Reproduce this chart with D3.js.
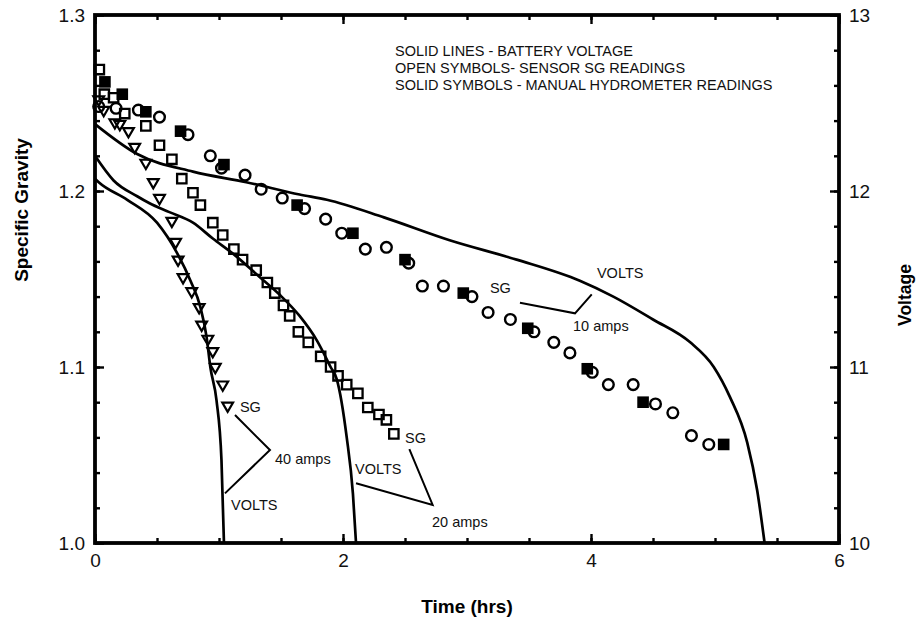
<!DOCTYPE html>
<html>
<head>
<meta charset="utf-8">
<script src="https://cdn.jsdelivr.net/npm/d3@7"></script>
<style>
  body { margin: 0; background: #fff; }
  svg { display: block; font-family: "Liberation Sans", Arial, Helvetica, sans-serif; }
</style>
</head>
<body>
<svg id="chart" width="921" height="624"></svg>
<script>
// battery voltage, [hours, volts]
const volts10A = [[0, 12.38], [0.34, 12.21], [0.79, 12.11], [1.22, 12.05], [1.65, 11.98], [1.87, 11.95],
  [2.33, 11.85], [2.86, 11.72], [3.4, 11.61], [3.91, 11.49], [4.18, 11.4], [4.5, 11.27], [4.8, 11.14],
  [4.99, 11.0], [5.12, 10.83], [5.26, 10.57], [5.34, 10.3], [5.4, 10.0]];
const volts20A = [[0, 12.2], [0.15, 12.06], [0.34, 11.97], [0.44, 11.93], [0.6, 11.88], [0.79, 11.82],
  [0.95, 11.73], [1.12, 11.64], [1.33, 11.51], [1.49, 11.41], [1.65, 11.29], [1.79, 11.15], [1.9, 11.0],
  [1.95, 10.93], [2.03, 10.6], [2.08, 10.28], [2.105, 10.0]];
const volts40A = [[0, 12.07], [0.03, 12.05], [0.26, 11.95], [0.5, 11.82], [0.66, 11.65], [0.77, 11.49],
  [0.85, 11.34], [0.9, 11.17], [0.93, 11.0], [0.98, 10.81], [1.02, 10.47], [1.04, 10.0]];

// sensor SG readings, [hours, SG]
const sensor10A = [[0.03, 1.248], [0.17, 1.247], [0.35, 1.246], [0.52, 1.242], [0.75, 1.232], [0.93, 1.22],
  [1.02, 1.213], [1.21, 1.209], [1.34, 1.201], [1.51, 1.196], [1.69, 1.19], [1.86, 1.184], [1.99, 1.176],
  [2.18, 1.167], [2.35, 1.168], [2.53, 1.159], [2.64, 1.146], [2.81, 1.146], [3.04, 1.14], [3.17, 1.131],
  [3.35, 1.127], [3.54, 1.12], [3.7, 1.114], [3.83, 1.108], [4.01, 1.097], [4.14, 1.09], [4.34, 1.09],
  [4.52, 1.079], [4.66, 1.074], [4.81, 1.061], [4.95, 1.056]];
const sensor20A = [[0.035, 1.269], [0.075, 1.255], [0.15, 1.253], [0.24, 1.244], [0.41, 1.237], [0.52, 1.226],
  [0.62, 1.218], [0.7, 1.207], [0.79, 1.199], [0.85, 1.192], [0.95, 1.182], [1.03, 1.175], [1.12, 1.167],
  [1.19, 1.161], [1.3, 1.155], [1.39, 1.148], [1.45, 1.142], [1.52, 1.135], [1.57, 1.129], [1.64, 1.12],
  [1.72, 1.114], [1.82, 1.106], [1.9, 1.1], [1.96, 1.095], [2.03, 1.09], [2.12, 1.085], [2.2, 1.077],
  [2.29, 1.073], [2.35, 1.07], [2.41, 1.062]];
const sensor40A = [[0.03, 1.252], [0.07, 1.246], [0.16, 1.239], [0.2, 1.238], [0.27, 1.234], [0.32, 1.225],
  [0.41, 1.216], [0.47, 1.205], [0.52, 1.196], [0.62, 1.183], [0.65, 1.171], [0.67, 1.161], [0.71, 1.151],
  [0.78, 1.143], [0.84, 1.134], [0.86, 1.124], [0.91, 1.116], [0.95, 1.109], [0.97, 1.1], [1.03, 1.09],
  [1.07, 1.078]];

// manual hydrometer readings at 10 amps, [hours, SG]
const manual10A = [[0.08, 1.262], [0.22, 1.255], [0.41, 1.245], [0.69, 1.234], [1.04, 1.215], [1.63, 1.192],
  [2.08, 1.176], [2.5, 1.161], [2.97, 1.142], [3.49, 1.122], [3.97, 1.099], [4.42, 1.08], [5.07, 1.056]];

const xLabels = [0, 2, 4, 6];
const sgLabels = [1.0, 1.1, 1.2, 1.3];
const voltLabels = [10, 11, 12, 13];

const legendLines = ['SOLID LINES - BATTERY VOLTAGE', 'OPEN SYMBOLS- SENSOR SG READINGS',
  'SOLID SYMBOLS - MANUAL HYDROMETER READINGS'];

// callouts: text at [hours, SG], leaders as polylines in the same units
const calloutText = [
  {text: 'SG', at: [3.185, 1.1449]}, {text: 'VOLTS', at: [4.048, 1.1534]}, {text: '10 amps', at: [3.855, 1.1233]},
  {text: 'SG', at: [2.5, 1.0597]}, {text: 'VOLTS', at: [2.097, 1.042]}, {text: '20 amps', at: [2.718, 1.0119]},
  {text: 'SG', at: [1.169, 1.0773]}, {text: '40 amps', at: [1.452, 1.0477]}, {text: 'VOLTS', at: [1.097, 1.0216]}
];
const calloutLeaders = [
  [[3.427, 1.1365], [3.871, 1.1305], [4.006, 1.1413]],
  [[2.535, 1.0534], [2.723, 1.0216], [2.105, 1.0339]],
  [[1.129, 1.0727], [1.411, 1.0528], [1.048, 1.0282]]
];

const plotLeft = 95, plotRight = 839, plotTop = 15, plotBottom = 543;

const svg = d3.select('#chart');
svg.append('rect').attr('width', 921).attr('height', 624).attr('fill', '#fff');

const x = d3.scaleLinear().domain([0, 6]).range([plotLeft, plotRight]);
const ySG = d3.scaleLinear().domain([1.0, 1.3]).range([plotBottom, plotTop]);
const yV = d3.scaleLinear().domain([10, 13]).range([plotBottom, plotTop]);

// minor ticks (inward)
svg.append('g').attr('transform', `translate(0,${plotBottom})`)
  .call(d3.axisBottom(x).tickValues(d3.range(0, 6.01, 0.5)).tickSize(-5).tickFormat(''));
svg.append('g').attr('transform', `translate(0,${plotTop})`)
  .call(d3.axisTop(x).tickValues(d3.range(0, 6.01, 0.5)).tickSize(-5).tickFormat(''));
svg.append('g').attr('transform', `translate(${plotLeft},0)`)
  .call(d3.axisLeft(ySG).tickValues(d3.range(0, 16).map(i => 1 + i * 0.02)).tickSize(-5).tickFormat(''));
svg.append('g').attr('transform', `translate(${plotRight},0)`)
  .call(d3.axisRight(yV).tickValues(d3.range(0, 16).map(i => 10 + i * 0.2)).tickSize(-5).tickFormat(''));

// major ticks with labels
svg.append('g').attr('class', 'major').attr('transform', `translate(0,${plotBottom})`)
  .call(d3.axisBottom(x).tickValues(xLabels).tickSize(-9).tickPadding(11).tickFormat(d3.format('d')));
svg.append('g').attr('class', 'major').attr('transform', `translate(0,${plotTop})`)
  .call(d3.axisTop(x).tickValues(xLabels).tickSize(-9).tickFormat(''));
svg.append('g').attr('class', 'major').attr('transform', `translate(${plotLeft},0)`)
  .call(d3.axisLeft(ySG).tickValues(sgLabels).tickSize(-9).tickPadding(10).tickFormat(d3.format('.1f')));
svg.append('g').attr('class', 'major').attr('transform', `translate(${plotRight},0)`)
  .call(d3.axisRight(yV).tickValues(voltLabels).tickSize(-9).tickPadding(10).tickFormat(d3.format('d')));

svg.selectAll('.domain').remove();
svg.selectAll('.tick line').attr('stroke', '#000').attr('stroke-width', 2.4);
svg.selectAll('.major text').attr('font-size', 19).attr('fill', '#111')
  .attr('font-family', '"Liberation Sans", Arial, sans-serif');

// frame
svg.append('rect')
  .attr('x', plotLeft).attr('y', plotTop)
  .attr('width', plotRight - plotLeft).attr('height', plotBottom - plotTop)
  .attr('fill', 'none').attr('stroke', '#000').attr('stroke-width', 3.8);

// voltage curves
const vLine = d3.line().x(d => x(d[0])).y(d => yV(d[1])).curve(d3.curveMonotoneX);
svg.append('g').selectAll('path')
  .data([volts10A, volts20A, volts40A])
  .join('path')
  .attr('d', vLine)
  .attr('fill', 'none')
  .attr('stroke', '#000')
  .attr('stroke-width', 2.7);

// markers
const markers = svg.append('g');
markers.selectAll('.tri').data(sensor40A).join('path')
  .attr('d', d3.symbol(d3.symbolTriangle, 50))
  .attr('transform', d => `translate(${x(d[0])},${ySG(d[1])}) rotate(180)`)
  .attr('fill', 'none').attr('stroke', '#000').attr('stroke-width', 2.2);
markers.selectAll('.sq').data(sensor20A).join('path')
  .attr('d', d3.symbol(d3.symbolSquare, 88))
  .attr('transform', d => `translate(${x(d[0])},${ySG(d[1])})`)
  .attr('fill', 'none').attr('stroke', '#000').attr('stroke-width', 2.3);
markers.selectAll('.solid').data(manual10A).join('path')
  .attr('d', d3.symbol(d3.symbolSquare, 135))
  .attr('transform', d => `translate(${x(d[0])},${ySG(d[1])})`)
  .attr('fill', '#000');
markers.selectAll('.circ').data(sensor10A).join('path')
  .attr('d', d3.symbol(d3.symbolCircle, 90))
  .attr('transform', d => `translate(${x(d[0])},${ySG(d[1])})`)
  .attr('fill', 'none').attr('stroke', '#000').attr('stroke-width', 2.4);

// callouts
const leader = d3.line().x(d => x(d[0])).y(d => ySG(d[1]));
svg.append('g').selectAll('path').data(calloutLeaders).join('path')
  .attr('d', leader).attr('fill', 'none').attr('stroke', '#000').attr('stroke-width', 2);
svg.append('g').selectAll('text').data(calloutText).join('text')
  .attr('x', d => x(d.at[0]))
  .attr('y', d => ySG(d.at[1]) + 5)
  .attr('font-size', 14.5)
  .attr('fill', '#111')
  .text(d => d.text);

// legend text
svg.append('g').selectAll('text').data(legendLines).join('text')
  .attr('x', 395)
  .attr('y', (d, i) => 55.5 + i * 17)
  .attr('font-size', 14.5)
  .attr('fill', '#111')
  .text(d => d);

// axis titles
svg.append('text')
  .attr('x', (plotLeft + plotRight) / 2).attr('y', 613)
  .attr('text-anchor', 'middle').attr('font-size', 19).attr('font-weight', 'bold')
  .text('Time (hrs)');
svg.append('text')
  .attr('transform', 'translate(28,210) rotate(-90)')
  .attr('text-anchor', 'middle').attr('font-size', 19).attr('font-weight', 'bold')
  .text('Specific Gravity');
svg.append('text')
  .attr('transform', 'translate(911,295) rotate(-90)')
  .attr('text-anchor', 'middle').attr('font-size', 17.5).attr('font-weight', 'bold')
  .text('Voltage');
</script>
</body>
</html>
